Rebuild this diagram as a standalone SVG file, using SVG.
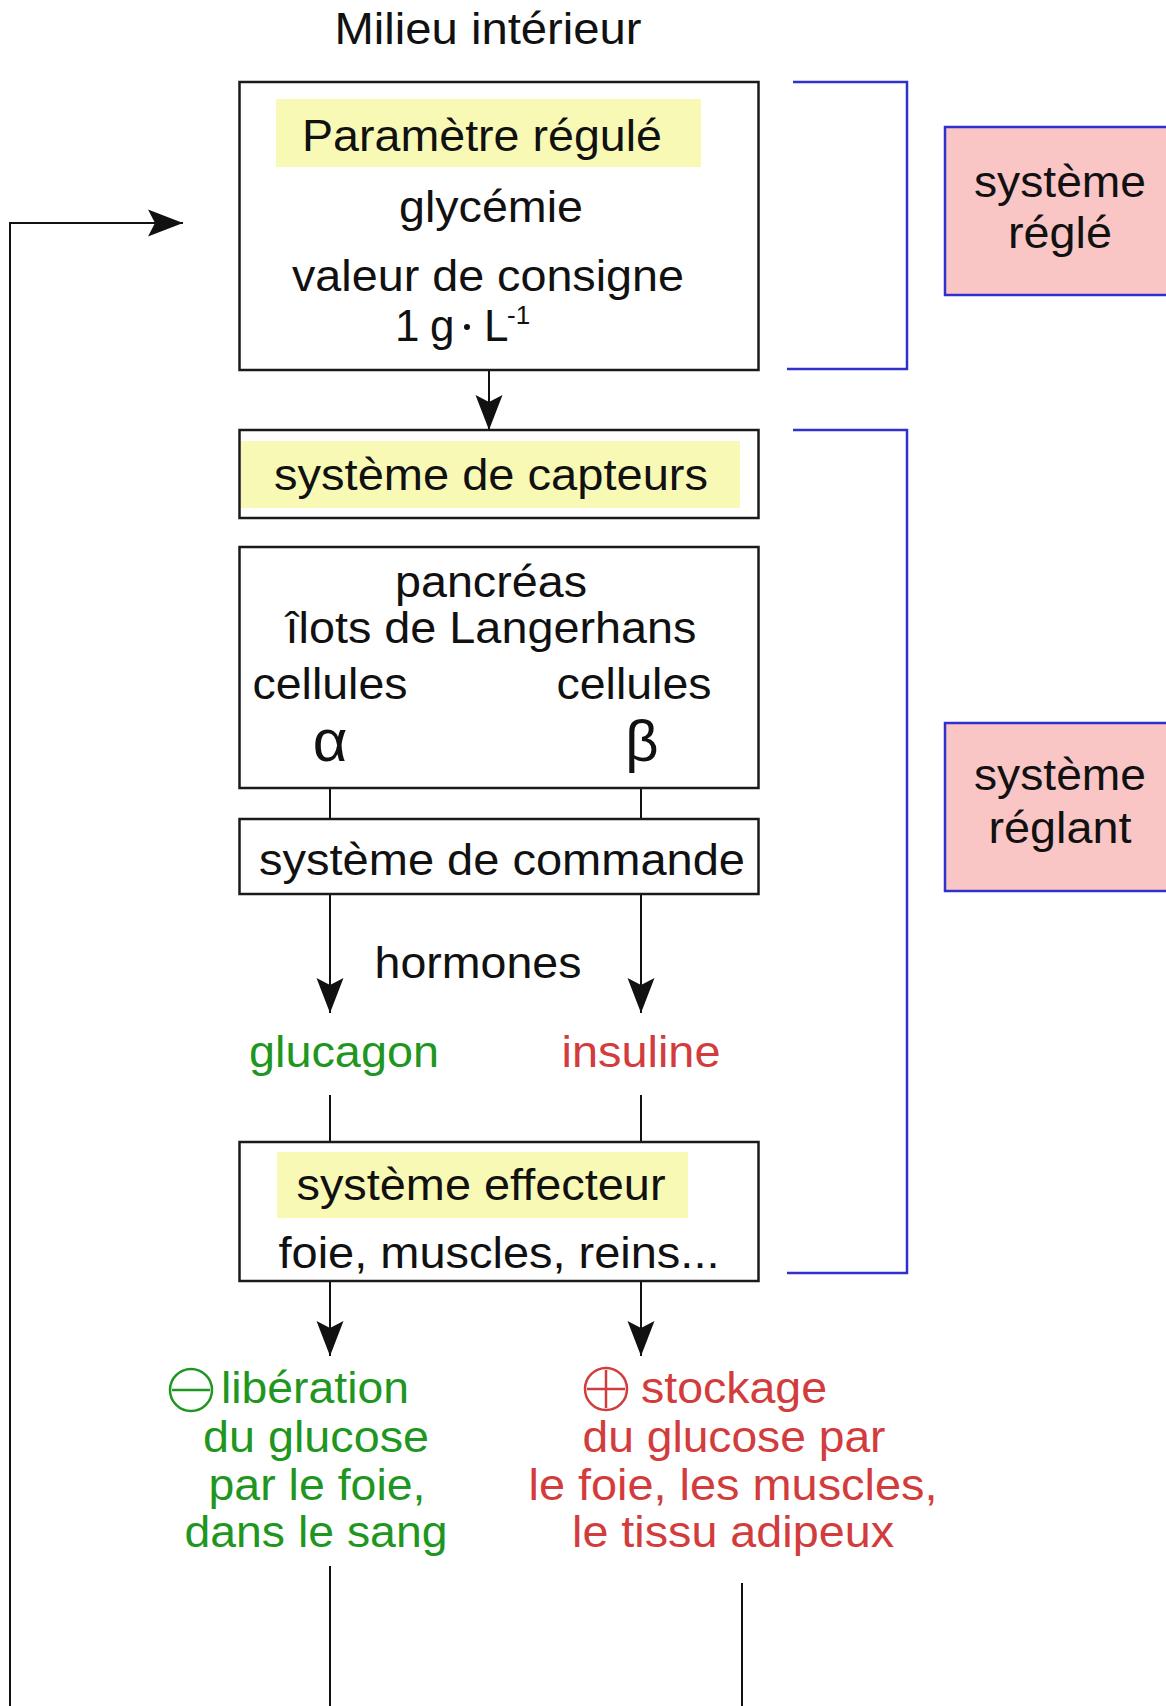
<svg xmlns="http://www.w3.org/2000/svg" width="1166" height="1706" viewBox="0 0 1166 1706">
<defs>
<style>
text{font-family:"Liberation Sans",Arial,Helvetica,sans-serif;font-size:44px;fill:#111;}
.c{text-anchor:middle;}
.g{fill:#1f961f;}
.r{fill:#d23c3c;}
.box{fill:#fff;stroke:#1a1a1a;stroke-width:2.5;}
.hl{fill:#f9f9b6;}
.pink{fill:#f9c5c5;stroke:#3030cc;stroke-width:2.5;}
.br{fill:none;stroke:#3030cc;stroke-width:2.5;}
.ln{fill:none;stroke:#111;stroke-width:2;}
.ar{fill:none;stroke:#111;stroke-width:2;marker-end:url(#ah);}
.sym{fill:none;stroke-width:2.5;}
</style>
<marker id="ah" markerUnits="userSpaceOnUse" markerWidth="40" markerHeight="30" viewBox="-36 -15 38 30" refX="0" refY="0" orient="auto">
<path d="M0,0 L-35,-13.5 L-28,0 L-35,13.5 Z" fill="#111"/>
</marker>
</defs>
<rect width="1166" height="1706" fill="#fff"/>

<text id="milieu" class="c" x="488" y="44" textLength="307" lengthAdjust="spacingAndGlyphs">Milieu intérieur</text>

<g id="connectors">
<path class="ar" d="M489,353 V430"/>
<path class="ln" d="M330,788 V819 M641,788 V819"/>
<path class="ar" d="M330,894 V1013"/>
<path class="ar" d="M641,894 V1013"/>
<path class="ln" d="M330,1095 V1142 M641,1095 V1142"/>
<path class="ar" d="M330,1281 V1356"/>
<path class="ar" d="M641,1281 V1356"/>
<path class="ln" d="M330,1566 V1706 M742,1583 V1706"/>
<path class="ar" d="M10,1706 V223 H183"/>
<polyline class="br" points="793,82 907,82 907,369 787,369"/>
<polyline class="br" points="793,430 907,430 907,1273 787,1273"/>
</g>

<g id="parametre">
<rect class="box" x="239.5" y="82" width="519" height="288"/>
<rect class="hl" x="276" y="99" width="425" height="68"/>
<text class="c" x="482" y="151" textLength="360" lengthAdjust="spacingAndGlyphs">Paramètre régulé</text>
<text class="c" x="491" y="222" textLength="184" lengthAdjust="spacingAndGlyphs">glycémie</text>
<text class="c" x="488" y="291" textLength="392" lengthAdjust="spacingAndGlyphs">valeur de consigne</text>
<text x="395" y="341">1</text>
<text x="430" y="341">g</text>
<circle cx="467" cy="327" r="3" fill="#111"/>
<text x="484" y="341">L</text>
<text x="507" y="324" style="font-size:26px">-1</text>
</g>

<g id="systeme-regle">
<rect class="pink" x="945" y="127" width="240" height="168"/>
<text class="c" x="1060" y="197" textLength="172" lengthAdjust="spacingAndGlyphs">système</text>
<text class="c" x="1060" y="248" textLength="104" lengthAdjust="spacingAndGlyphs">réglé</text>
</g>

<g id="capteurs">
<rect class="box" x="239.5" y="430" width="519" height="88"/>
<rect class="hl" x="241" y="441" width="499" height="67"/>
<text class="c" x="491" y="490" textLength="434" lengthAdjust="spacingAndGlyphs">système de capteurs</text>
</g>

<g id="pancreas">
<rect class="box" x="239.5" y="547" width="519" height="241"/>
<text class="c" x="491" y="597" textLength="192" lengthAdjust="spacingAndGlyphs">pancréas</text>
<text class="c" x="491" y="643" textLength="411" lengthAdjust="spacingAndGlyphs">îlots de Langerhans</text>
<text class="c" x="330" y="699" textLength="155" lengthAdjust="spacingAndGlyphs">cellules</text>
<text class="c" x="634" y="699" textLength="155" lengthAdjust="spacingAndGlyphs">cellules</text>
<text class="c" x="330" y="761" style="font-size:60px">α</text>
<text class="c" x="642" y="761" style="font-size:58px">β</text>
</g>

<g id="commande">
<rect class="box" x="239.5" y="819" width="519" height="75"/>
<text class="c" x="502" y="875" textLength="486" lengthAdjust="spacingAndGlyphs">système de commande</text>
</g>

<g id="systeme-reglant">
<rect class="pink" x="945" y="723" width="240" height="168"/>
<text class="c" x="1060" y="790" textLength="172" lengthAdjust="spacingAndGlyphs">système</text>
<text class="c" x="1060" y="843" textLength="143" lengthAdjust="spacingAndGlyphs">réglant</text>
</g>

<text id="hormones" class="c" x="478" y="978" textLength="207" lengthAdjust="spacingAndGlyphs">hormones</text>
<text id="glucagon" class="c g" x="344" y="1067" textLength="190" lengthAdjust="spacingAndGlyphs">glucagon</text>
<text id="insuline" class="c r" x="641" y="1067" textLength="159" lengthAdjust="spacingAndGlyphs">insuline</text>

<g id="effecteur">
<rect class="box" x="239.5" y="1142" width="519" height="139"/>
<rect class="hl" x="277" y="1152" width="411" height="66"/>
<text class="c" x="481" y="1200" textLength="369" lengthAdjust="spacingAndGlyphs">système effecteur</text>
<text class="c" x="499" y="1268" textLength="441" lengthAdjust="spacingAndGlyphs">foie, muscles, reins...</text>
</g>

<g id="liberation">
<circle class="sym" cx="191" cy="1390" r="21" stroke="#1f961f"/>
<path class="sym" d="M172,1390 H210" stroke="#1f961f"/>
<text class="g" x="221" y="1403" textLength="188" lengthAdjust="spacingAndGlyphs">libération</text>
<text class="c g" x="316" y="1452" textLength="226" lengthAdjust="spacingAndGlyphs">du glucose</text>
<text class="c g" x="317" y="1500" textLength="217" lengthAdjust="spacingAndGlyphs">par le foie,</text>
<text class="c g" x="316" y="1547" textLength="263" lengthAdjust="spacingAndGlyphs">dans le sang</text>
</g>

<g id="stockage">
<circle class="sym" cx="606" cy="1389" r="21" stroke="#d23c3c"/>
<path class="sym" d="M587,1389 H625 M606,1370 V1408" stroke="#d23c3c"/>
<text class="r" x="641" y="1403" textLength="186" lengthAdjust="spacingAndGlyphs">stockage</text>
<text class="c r" x="734" y="1452" textLength="303" lengthAdjust="spacingAndGlyphs">du glucose par</text>
<text class="c r" x="733" y="1500" textLength="409" lengthAdjust="spacingAndGlyphs">le foie, les muscles,</text>
<text class="c r" x="733" y="1547" textLength="322" lengthAdjust="spacingAndGlyphs">le tissu adipeux</text>
</g>
</svg>
